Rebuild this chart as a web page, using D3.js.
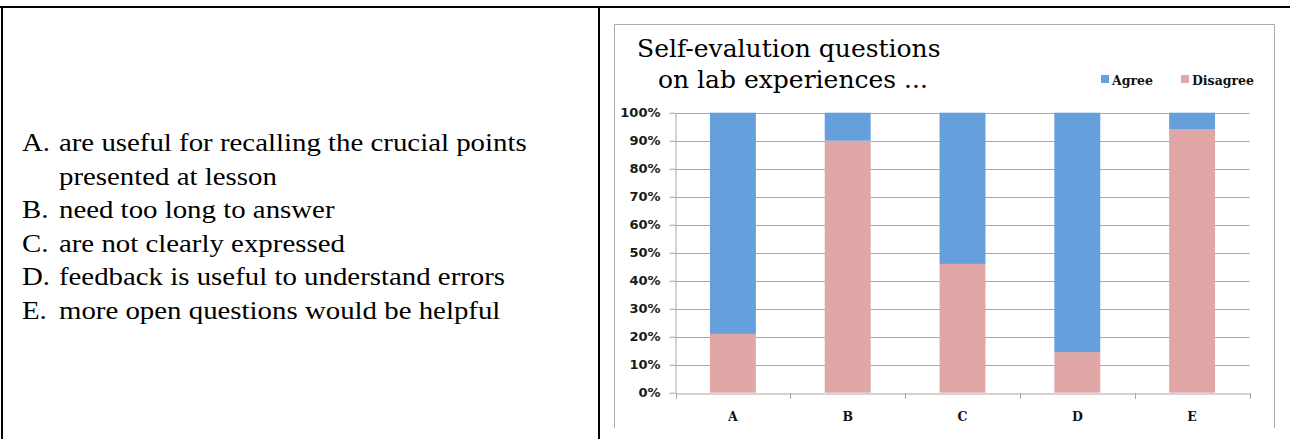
<!DOCTYPE html>
<html>
<head>
<meta charset="utf-8">
<script src="https://cdn.jsdelivr.net/npm/d3@7"></script>
<style>
  body { margin: 0; background: #fff; }
</style>
</head>
<body>
<svg id="chart"></svg>
<script>
// data
const categories = ["A", "B", "C", "D", "E"];
const disagree = [21, 90, 46, 14.5, 94];
const agree = [79, 10, 54, 85.5, 6];
const seriesNames = ["Agree", "Disagree"];
const seriesColors = ["#659fdc", "#e0a7a6"];
const yTicks = [0, 10, 20, 30, 40, 50, 60, 70, 80, 90, 100];
const titleLines = ["Self-evalution questions", "on lab experiences ..."];
const statements = [
    ["A.", "are useful for recalling the crucial points"],
    ["", "presented at lesson"],
    ["B.", "need too long to answer"],
    ["C.", "are not clearly expressed"],
    ["D.", "feedback is useful to understand errors"],
    ["E.", "more open questions would be helpful"]
];

const W = 1290, H = 439;
const svg = d3.select("#chart").attr("width", W).attr("height", H);

// table borders
svg.append("line").attr("x1", 0).attr("x2", W).attr("y1", 7).attr("y2", 7)
    .attr("stroke", "#000").attr("stroke-width", 2);
svg.append("line").attr("x1", 2).attr("x2", 2).attr("y1", 7).attr("y2", H)
    .attr("stroke", "#000").attr("stroke-width", 2);
svg.append("line").attr("x1", 599).attr("x2", 599).attr("y1", 7).attr("y2", H)
    .attr("stroke", "#000").attr("stroke-width", 2);

// left cell: list of statements (the source font runs a bit wider than Times)
const list = svg.append("g")
    .attr("transform", "translate(22,0) scale(1.11,1)")
    .style("font-family", "'Liberation Serif', 'Times New Roman', serif")
    .style("font-size", "26px")
    .attr("fill", "#000");
statements.forEach((s, i) => {
    const y = 151 + i * 33.6;
    if (s[0]) list.append("text").attr("x", 0).attr("y", y).text(s[0]);
    list.append("text").attr("x", 33.3).attr("y", y).text(s[1]);
});

// chart frame (cut off at the bottom)
svg.append("path")
    .attr("d", "M614.5,428 V24.5 H1274.5 V428")
    .attr("fill", "none").attr("stroke", "#ababab").attr("stroke-width", 1);

// title
const title = svg.append("g")
    .style("font-family", "'DejaVu Serif', serif")
    .style("font-size", "25px")
    .attr("fill", "#000");
title.append("text").attr("x", 637).attr("y", 57).text(titleLines[0]);
title.append("text").attr("x", 658).attr("y", 88).text(titleLines[1]);

// plot area
const plot = {left: 675.5, right: 1249.5, top: 112.7, bottom: 392.7};

const x = d3.scaleBand()
    .domain(categories)
    .range([plot.left, plot.right])
    .paddingInner(0.6)
    .paddingOuter(0.3);

const xOuter = d3.scaleBand()
    .domain(categories)
    .range([plot.left, plot.right]);

const y = d3.scaleLinear()
    .domain([0, 100])
    .range([plot.bottom, plot.top]);

// gridlines
svg.append("g")
    .selectAll("line")
    .data(yTicks.filter(d => d > 0))
    .enter()
    .append("line")
    .attr("x1", plot.left)
    .attr("x2", plot.right)
    .attr("y1", d => Math.round(y(d)) + 0.5)
    .attr("y2", d => Math.round(y(d)) + 0.5)
    .attr("stroke", "#a8a8a8");

// y axis
const yAxis = d3.axisLeft(y)
    .tickValues(yTicks)
    .tickFormat(d => d + "%")
    .tickSize(6)
    .tickSizeOuter(0);
const gy = svg.append("g")
    .attr("transform", "translate(" + plot.left + ",0)")
    .call(yAxis);
gy.selectAll("line, path").attr("stroke", "#a8a8a8");
gy.selectAll("text")
    .attr("x", -15)
    .style("font-family", "'DejaVu Sans', Verdana, sans-serif")
    .style("font-weight", "bold")
    .style("font-size", "13px")
    .attr("fill", "#1a1a1a");

// stacked bars: Disagree at the bottom, Agree on top
const rows = categories.map((c, i) => ({cat: c, Disagree: disagree[i], Agree: agree[i]}));
const stack = d3.stack().keys(["Disagree", "Agree"])(rows);
const colorOf = d3.scaleOrdinal().domain(seriesNames).range(seriesColors);

svg.append("g")
    .selectAll("g")
    .data(stack)
    .enter()
    .append("g")
    .attr("fill", d => colorOf(d.key))
    .selectAll("rect")
    .data(d => d)
    .enter()
    .append("rect")
    .attr("x", d => x(d.data.cat))
    .attr("width", x.bandwidth())
    .attr("y", d => y(d[1]))
    .attr("height", d => y(d[0]) - y(d[1]));

// x axis
const xAxis = d3.axisBottom(xOuter)
    .tickSize(0)
    .tickSizeOuter(0);
const gx = svg.append("g")
    .attr("transform", "translate(0," + (Math.round(plot.bottom) + 0.5) + ")")
    .call(xAxis);
gx.select("path").attr("stroke", "#a8a8a8");
gx.selectAll("text")
    .attr("dy", 0)
    .attr("y", 27)
    .style("font-family", "'DejaVu Serif', serif")
    .style("font-weight", "bold")
    .style("font-size", "12.5px")
    .attr("fill", "#111");

// category boundary ticks
svg.append("g")
    .selectAll("line")
    .data(categories.concat(["end"]))
    .enter()
    .append("line")
    .attr("x1", (d, i) => Math.round(plot.left + i * xOuter.step()) + 0.5)
    .attr("x2", (d, i) => Math.round(plot.left + i * xOuter.step()) + 0.5)
    .attr("y1", Math.round(plot.bottom))
    .attr("y2", Math.round(plot.bottom) + 6)
    .attr("stroke", "#a8a8a8");

// legend
const legend = svg.append("g")
    .style("font-family", "'DejaVu Serif', serif")
    .style("font-weight", "bold")
    .style("font-size", "12.5px");
const legendX = [1101, 1181];
seriesNames.forEach((name, i) => {
    legend.append("rect")
        .attr("x", legendX[i]).attr("y", 75)
        .attr("width", 8).attr("height", 8)
        .attr("fill", seriesColors[i]);
    legend.append("text")
        .attr("x", legendX[i] + 11).attr("y", 85)
        .attr("fill", "#111")
        .text(name);
});
</script>
</body>
</html>
